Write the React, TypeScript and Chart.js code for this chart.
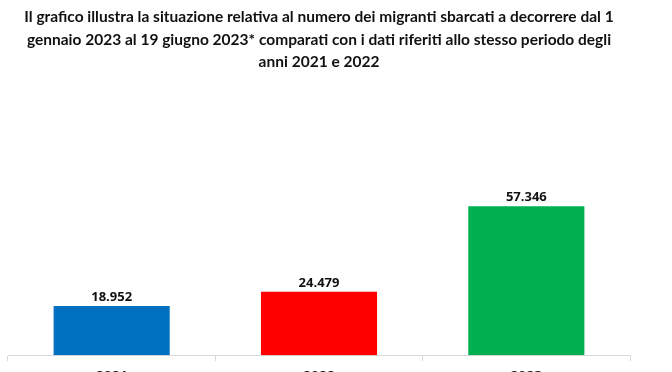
import React, { useEffect, useRef } from "react";
import { Chart, registerables } from "chart.js";

Chart.register(...registerables);

const categories = ["2021", "2022", "2023"];
const values = [18952, 24479, 57346];
const valueLabels = ["18.952", "24.479", "57.346"];
const barColors = ["#0070C0", "#FF0000", "#00B050"];
const titleLines = [
  "Il grafico illustra la situazione relativa al numero dei migranti sbarcati a decorrere dal 1",
  "gennaio 2023 al 19 giugno 2023* comparati con i dati riferiti allo stesso periodo degli",
  "anni 2021 e 2022",
];

const valueLabelPlugin = {
  id: "valueLabels",
  afterDatasetsDraw(chart: any) {
    const ctx = chart.ctx;
    const meta = chart.getDatasetMeta(0);
    ctx.save();
    ctx.font = "bold 13px 'Open Sans'";
    ctx.fillStyle = "#111111";
    ctx.textAlign = "center";
    ctx.textBaseline = "bottom";
    meta.data.forEach((bar: any, i: number) => {
      ctx.fillText(valueLabels[i], bar.x, bar.y - 2);
    });
    ctx.restore();
  },
};

export default function App() {
  const ref = useRef<HTMLCanvasElement | null>(null);
  useEffect(() => {
    if (!ref.current) return;
    const chart = new Chart(ref.current, {
      type: "bar",
      data: {
        labels: categories,
        datasets: [
          {
            data: values,
            backgroundColor: barColors,
            borderWidth: 0,
            categoryPercentage: 1,
            barPercentage: 0.56,
          },
        ],
      },
      options: {
        animation: false,
        responsive: false,
        maintainAspectRatio: false,
        layout: { padding: { left: 8, right: 42, top: 0, bottom: 8 } },
        plugins: {
          legend: { display: false },
          tooltip: { enabled: false },
          title: {
            display: true,
            text: titleLines,
            color: "#111111",
            font: { family: "Lato", size: 15.5, weight: "bold", lineHeight: 1.45 },
            padding: { top: 6, bottom: 100 },
          },
        },
        scales: {
          x: {
            grid: {
              display: true,
              drawOnChartArea: false,
              drawTicks: true,
              tickLength: 6,
              color: "#D9D9D9",
              offset: true,
            },
            border: { display: true, color: "#D9D9D9", width: 1 },
            ticks: {
              color: "#111111",
              padding: 7,
              font: { family: "'Open Sans'", size: 14, weight: "bold" },
            },
          },
          y: {
            display: false,
            min: 0,
            max: 70000,
          },
        },
      },
      plugins: [valueLabelPlugin],
    });
    return () => chart.destroy();
  }, []);
  return (
    <div
      style={{
        position: "absolute",
        left: 0,
        top: 0,
        width: 672,
        height: 372,
        overflow: "hidden",
        background: "#ffffff",
      }}
    >
      <canvas ref={ref} width={672} height={400} style={{ width: 672, height: 400, display: "block" }} />
    </div>
  );
}
